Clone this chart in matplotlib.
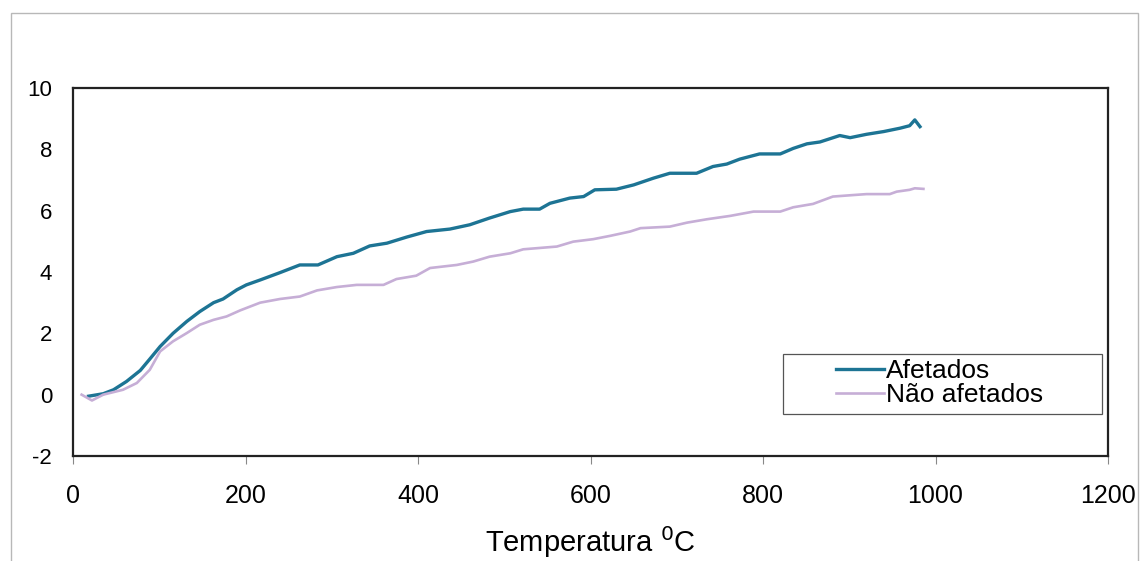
import matplotlib
matplotlib.use("Agg")
import matplotlib.pyplot as plt
from matplotlib.patches import Rectangle

# Dilatation curves versus temperature
temp_afetados = [18, 35, 47, 62, 78, 89, 101, 116, 132, 147, 163, 174, 190, 201, 217,
                 240, 263, 284, 306, 325, 344, 364, 387, 410, 437, 460, 483, 507, 522,
                 541, 553, 576, 592, 605, 630, 650, 673, 692, 723, 742, 758, 773, 796,
                 820, 835, 851, 866, 889, 901, 920, 940, 959, 970, 976, 982]
afetados = [-0.05, 0.03, 0.16, 0.43, 0.79, 1.16, 1.57, 2.0, 2.39, 2.71, 3.0, 3.12, 3.42,
            3.58, 3.74, 3.98, 4.23, 4.23, 4.5, 4.61, 4.85, 4.94, 5.14, 5.32, 5.4, 5.54,
            5.76, 5.97, 6.05, 6.05, 6.24, 6.41, 6.46, 6.68, 6.7, 6.84, 7.06, 7.22, 7.22,
            7.44, 7.52, 7.68, 7.85, 7.85, 8.03, 8.18, 8.24, 8.45, 8.38, 8.49, 8.58, 8.69,
            8.77, 8.96, 8.74]

temp_nao = [10, 22, 35, 58, 74, 89, 101, 116, 132, 147, 163, 178, 194, 217, 240, 263,
            283, 306, 329, 360, 375, 398, 414, 445, 464, 483, 507, 522, 561, 580, 603,
            623, 646, 658, 692, 712, 735, 762, 789, 820, 835, 858, 881, 905, 920, 947,
            955, 970, 976, 986]
nao_afetados = [0.0, -0.19, 0.0, 0.16, 0.38, 0.81, 1.41, 1.74, 2.01, 2.28, 2.44, 2.55,
                2.75, 3.0, 3.12, 3.2, 3.4, 3.51, 3.58, 3.58, 3.77, 3.88, 4.13, 4.23, 4.34,
                4.5, 4.61, 4.74, 4.83, 4.99, 5.07, 5.18, 5.32, 5.43, 5.48, 5.61, 5.72,
                5.83, 5.97, 5.97, 6.11, 6.22, 6.46, 6.51, 6.54, 6.54, 6.62, 6.68, 6.73,
                6.71]

x_ticks = [0, 200, 400, 600, 800, 1000, 1200]
y_ticks = [-2, 0, 2, 4, 6, 8, 10]

plt.rcParams['font.family'] = ['Liberation Sans', 'DejaVu Sans']

W, H = 1140, 561
fig = plt.figure(figsize=(W / 100, H / 100), dpi=100)
fig.patch.set_facecolor('white')

# light outer frame around the chart area
fig.patches.append(Rectangle((11 / W, -0.01), (1138 - 11) / W, 1 - 13 / H + 0.01,
                             transform=fig.transFigure, fill=False,
                             edgecolor='#b8b8b8', linewidth=1.0))

ax_l, ax_r, ax_t, ax_b = 73, 1108, 88, 456
ax = fig.add_axes([ax_l / W, 1 - ax_b / H, (ax_r - ax_l) / W, (ax_b - ax_t) / H])

ax.plot(temp_afetados, afetados, color='#1d7494', linewidth=2.4, label='Afetados')
ax.plot(temp_nao, nao_afetados, color='#c6aed6', linewidth=1.9, label='Não afetados')

ax.set_xlim(0, 1200)
ax.set_ylim(-2, 10)
ax.set_xticks(x_ticks)
ax.set_yticks(y_ticks)
ax.set_xticklabels([str(v) for v in x_ticks], fontsize=18)
ax.set_yticklabels([str(v) for v in y_ticks], fontsize=16)
ax.tick_params(axis='x', direction='out', length=6, width=0.8, color='#888888', pad=14)
ax.tick_params(axis='y', length=0, pad=15)

for side in ['left', 'right', 'top', 'bottom']:
    ax.spines[side].set_color('#222222')
    ax.spines[side].set_linewidth(1.6)

ax.set_xlabel('Temperatura $^{0}$C', fontsize=21, labelpad=12)

# legend box
axw, axh = ax_r - ax_l, ax_b - ax_t
ax.add_patch(Rectangle(((783 - ax_l) / axw, (ax_b - 414) / axh), (1102 - 783) / axw, 60 / axh,
                       transform=ax.transAxes, fill=True, facecolor='white',
                       edgecolor='#555555', linewidth=0.9, zorder=4))
leg = ax.legend(loc='center left', bbox_to_anchor=((836 - ax_l) / axw, (ax_b - 383) / axh),
                fontsize=19, frameon=False, handlelength=1.8,
                handletextpad=0.08, borderpad=0, labelspacing=0.0, borderaxespad=0)
leg.set_zorder(5)

fig.savefig('out.png', dpi=100, facecolor='white')
